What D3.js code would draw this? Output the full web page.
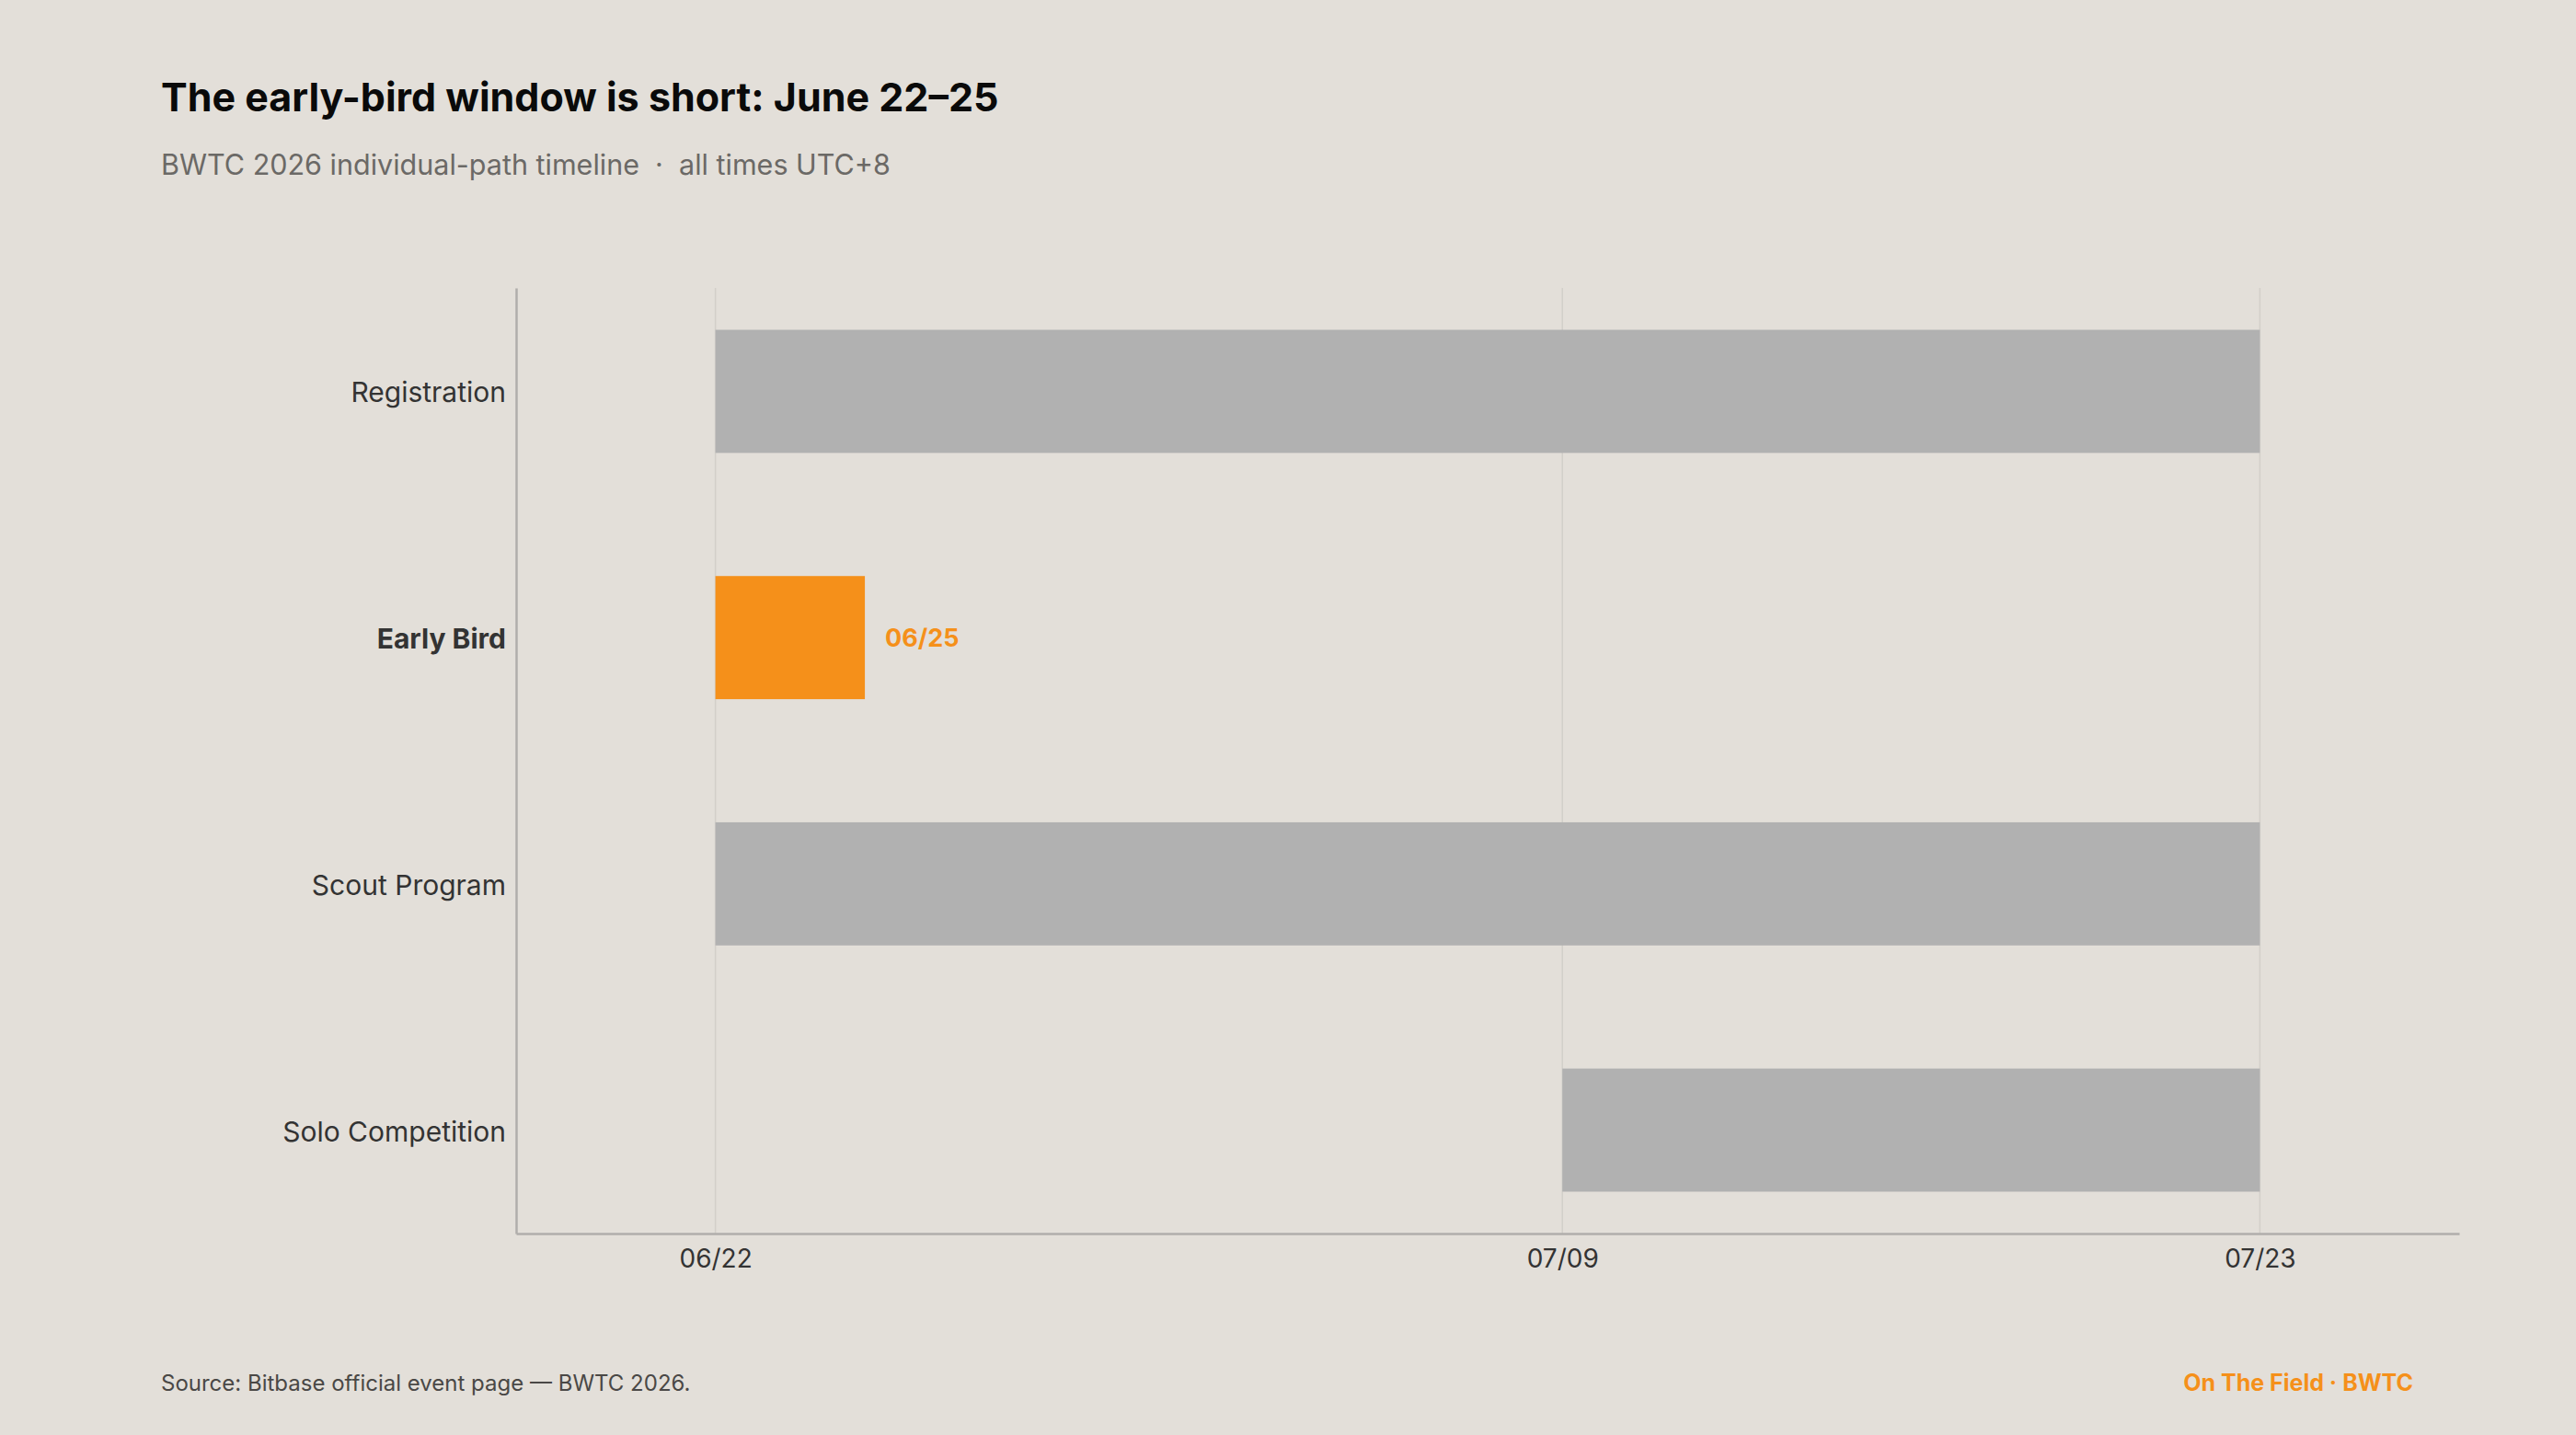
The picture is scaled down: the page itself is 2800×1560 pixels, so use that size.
<!DOCTYPE html>
<html>
<head>
<meta charset="utf-8">
<script src="https://cdn.jsdelivr.net/npm/d3@7"></script>
<style>
  html, body { margin: 0; padding: 0; background: #e3dfd9; }
  svg { display: block; font-family: Inter, "Noto Sans", sans-serif; }
</style>
</head>
<body>
<svg id="chart"></svg>
<script>
// Data
const phases = ["Registration", "Early Bird", "Scout Program", "Solo Competition"];
const startDates = ["2026-06-22", "2026-06-22", "2026-06-22", "2026-07-09"];
const endDates = ["2026-07-23", "2026-06-25", "2026-07-23", "2026-07-23"];
const tickDates = ["2026-06-22", "2026-07-09", "2026-07-23"];
const highlight = "Early Bird";

const width = 2800, height = 1560;
const margin = { top: 313, right: 127, bottom: 219, left: 561 };

const parse = d3.utcParse("%Y-%m-%d");
const fmt = d3.utcFormat("%m/%d");

const svg = d3.select("#chart")
    .attr("width", width)
    .attr("height", height);

svg.append("rect")
    .attr("width", width)
    .attr("height", height)
    .attr("fill", "#e3dfd9");

// Title + subtitle
svg.append("text")
    .attr("x", 175).attr("y", 121)
    .style("font-size", "43px")
    .style("font-weight", "700")
    .style("fill", "#0a0a0a")
    .text("The early-bird window is short: June 22\u201325");

svg.append("text")
    .attr("x", 175).attr("y", 190)
    .style("font-size", "30.5px")
    .style("white-space", "pre")
    .style("fill", "#6b6966")
    .text("BWTC 2026 individual-path timeline  \u00b7  all times UTC+8");

// Scales
const allDates = startDates.concat(endDates).map(parse);
const x = d3.scaleUtc()
    .domain([d3.utcDay.offset(d3.min(allDates), -4), d3.utcDay.offset(d3.max(allDates), 4)])
    .range([margin.left, width - margin.right]);

const y = d3.scaleBand()
    .domain(phases)
    .range([margin.top, height - margin.bottom])
    .paddingInner(0.5)
    .paddingOuter(0.17);

// Gridlines
svg.append("g")
    .selectAll("line")
    .data(tickDates.map(parse))
    .enter()
    .append("line")
    .attr("x1", d => x(d)).attr("x2", d => x(d))
    .attr("y1", margin.top).attr("y2", height - margin.bottom)
    .attr("stroke", "#d3cfc9")
    .attr("stroke-width", 1.5);

// Bars
const rows = phases.map((p, i) => ({ phase: p, start: parse(startDates[i]), end: parse(endDates[i]) }));

svg.append("g")
    .selectAll("rect")
    .data(rows)
    .enter()
    .append("rect")
    .attr("x", d => x(d.start))
    .attr("y", d => y(d.phase))
    .attr("width", d => x(d.end) - x(d.start))
    .attr("height", y.bandwidth())
    .attr("fill", d => d.phase === highlight ? "#f5901a" : "#b1b1b1");

// End label for highlighted bar
const hl = rows.find(d => d.phase === highlight);
svg.append("text")
    .attr("x", x(hl.end) + 22)
    .attr("y", y(hl.phase) + y.bandwidth() / 2)
    .attr("dy", "0.35em")
    .style("font-size", "27px")
    .style("font-weight", "700")
    .style("fill", "#f5901a")
    .text(fmt(hl.end));

// X axis
const xAxis = svg.append("g")
    .attr("transform", `translate(0,${height - margin.bottom})`)
    .call(d3.axisBottom(x).tickValues(tickDates.map(parse)).tickFormat(fmt).tickSize(0).tickPadding(17));
xAxis.select(".domain").attr("stroke", "#b0aeab").attr("stroke-width", 2.5);
xAxis.selectAll("text")
    .style("font-size", "28px")
    .style("font-family", "Inter, sans-serif")
    .style("fill", "#333");

// Y axis
const yAxis = svg.append("g")
    .attr("transform", `translate(${margin.left},0)`)
    .call(d3.axisLeft(y).tickSize(0).tickPadding(11));
yAxis.select(".domain").attr("stroke", "#b0aeab").attr("stroke-width", 2.5);
yAxis.selectAll("text")
    .attr("dy", "0.4em")
    .style("font-size", "30px")
    .style("font-family", "Inter, sans-serif")
    .style("font-weight", d => d === highlight ? "700" : "400")
    .style("fill", "#333");

// Footer
svg.append("text")
    .attr("x", 175).attr("y", 1512)
    .style("font-size", "24px")
    .style("fill", "#4a4846")
    .text("Source: Bitbase official event page \u2014 BWTC 2026.");

svg.append("text")
    .attr("x", 2623).attr("y", 1512)
    .attr("text-anchor", "end")
    .style("font-size", "25px")
    .style("font-weight", "700")
    .style("fill", "#f5901a")
    .text("On The Field \u00b7 BWTC");
</script>
</body>
</html>
